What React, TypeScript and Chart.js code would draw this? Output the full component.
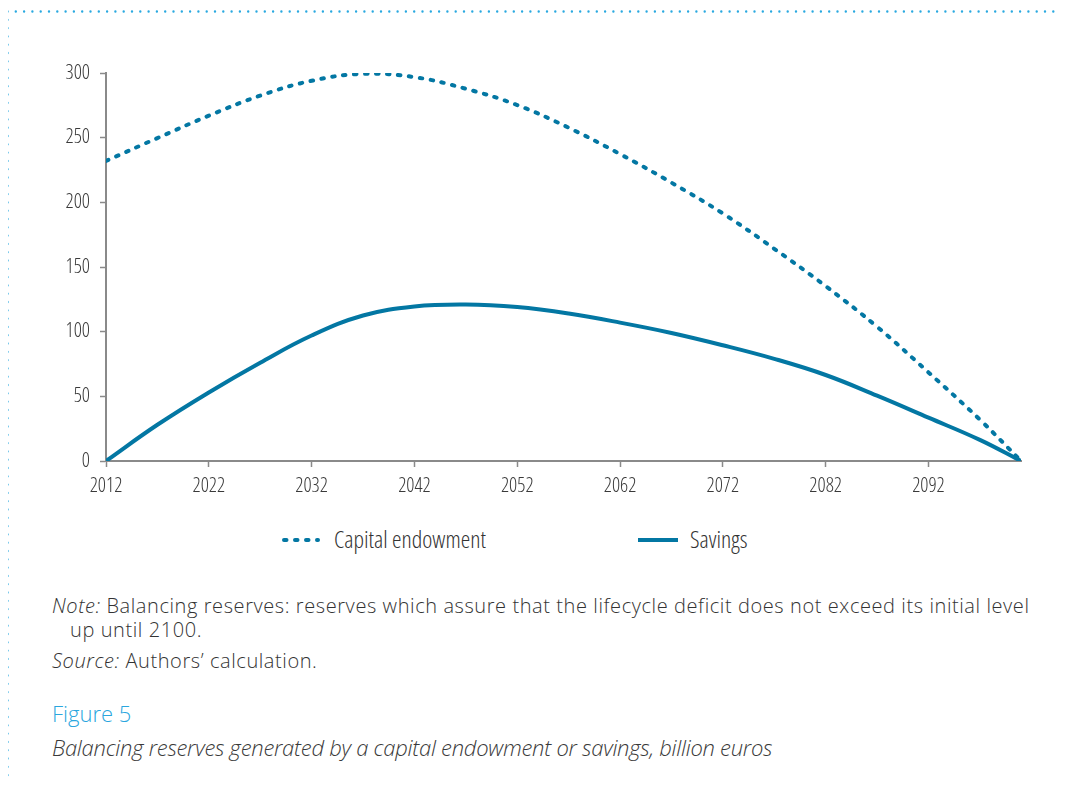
import React, { useEffect, useRef } from 'react';
import { Chart, registerables } from 'chart.js';

Chart.register(...registerables);

const years = [2012, 2017, 2022, 2027, 2032, 2037, 2042, 2047, 2052, 2057, 2062, 2067, 2072, 2077, 2082, 2087, 2092, 2097, 2101];
const capitalEndowment = [232, 249.7, 267, 282.5, 294, 299.3, 296.8, 287.8, 275.2, 257.7, 237.3, 215.2, 191.4, 164.1, 135.2, 103.8, 68.5, 32, 0];
const savings = [0, 28, 53, 76, 97, 112.5, 119.5, 121, 119, 114, 107, 99, 89.5, 79, 66.5, 50.5, 33.5, 16.3, 0];
const xTickYears = [2012, 2022, 2032, 2042, 2052, 2062, 2072, 2082, 2092];
const yTickValues = [0, 50, 100, 150, 200, 250, 300];
const seriesNames = ['Capital endowment', 'Savings'];

const LINE_COLOR = '#0377a3';
const AXIS_COLOR = '#8a8a8a';
const FAMILY = "'Open Sans', sans-serif";

export default function App() {
  const canvasRef = useRef<HTMLCanvasElement | null>(null);

  useEffect(() => {
    const canvas = canvasRef.current;
    if (!canvas) return;
    const tickFont = { family: FAMILY, size: 20, weight: '300 condensed' } as any;
    const chart = new Chart(canvas, {
      type: 'line',
      data: {
        datasets: [
          {
            label: seriesNames[0],
            data: years.map((y, i) => ({ x: y, y: capitalEndowment[i] })),
            borderColor: LINE_COLOR,
            borderWidth: 4,
            borderDash: [2.5, 8.5],
            borderCapStyle: 'round',
            pointRadius: 0,
            tension: 0.4,
            fill: false,
          },
          {
            label: seriesNames[1],
            data: years.map((y, i) => ({ x: y, y: savings[i] })),
            borderColor: LINE_COLOR,
            borderWidth: 4,
            pointRadius: 0,
            tension: 0.4,
            fill: false,
          },
        ],
      },
      options: {
        animation: false,
        responsive: false,
        events: [],
        layout: { padding: { left: 0, right: 44, top: 73, bottom: 0 } },
        plugins: {
          legend: { display: false },
          tooltip: { enabled: false },
          title: { display: false },
        },
        scales: {
          x: {
            type: 'linear',
            min: 2012,
            max: 2101,
            afterBuildTicks: (scale: any) => {
              scale.ticks = xTickYears.map((v) => ({ value: v }));
            },
            afterFit: (scale: any) => {
              scale.height = 41;
            },
            border: { display: true, color: AXIS_COLOR, width: 2 },
            grid: {
              display: true,
              drawOnChartArea: false,
              drawTicks: true,
              tickLength: 6,
              tickColor: AXIS_COLOR,
              tickWidth: 1.5,
            },
            ticks: {
              autoSkip: false,
              maxRotation: 0,
              padding: 7,
              color: '#3a3a3a',
              font: tickFont,
              callback: (v: any) => String(v),
            },
          },
          y: {
            type: 'linear',
            min: 0,
            max: 300,
            afterBuildTicks: (scale: any) => {
              scale.ticks = yTickValues.map((v) => ({ value: v }));
            },
            afterFit: (scale: any) => {
              scale.width = 106;
            },
            border: { display: true, color: AXIS_COLOR, width: 2 },
            grid: {
              display: true,
              drawOnChartArea: false,
              drawTicks: true,
              tickLength: 6,
              tickColor: AXIS_COLOR,
              tickWidth: 1.5,
            },
            ticks: {
              padding: 10,
              color: '#3a3a3a',
              font: tickFont,
              callback: (v: any) => String(v),
            },
          },
        },
      },
    } as any);
    return () => chart.destroy();
  }, []);

  const abs = (left: number, top: number, extra: React.CSSProperties = {}): React.CSSProperties => ({
    position: 'absolute',
    left,
    top,
    whiteSpace: 'nowrap',
    fontFamily: FAMILY,
    fontWeight: 300,
    fontStretch: '75%',
    ...extra,
  });

  const noteStyle: React.CSSProperties = { fontSize: 20, lineHeight: '28px', color: '#333', fontStretch: '100%', letterSpacing: '0.58px' };

  return (
    <div style={{ position: 'relative', margin: -8, width: 1065, height: 785, overflow: 'hidden', background: '#fff' }}>
      <svg width={1065} height={789} style={{ position: 'absolute', left: 0, top: 0 }}>
        <line x1={7.5} y1={11.5} x2={1065} y2={11.5} stroke="#2aa9e0" strokeWidth={2.4} strokeDasharray="0 8.3" strokeLinecap="round" />
        <line x1={7.5} y1={19.8} x2={7.5} y2={789} stroke="#2aa9e0" strokeWidth={2.4} strokeDasharray="0 8.3" strokeLinecap="round" />
      </svg>
      <canvas ref={canvasRef} width={1065} height={502} style={{ position: 'absolute', left: 0, top: 0, width: 1065, height: 502 }} />

      {/* Legend */}
      <svg width={1065} height={20} style={{ position: 'absolute', left: 0, top: 530 }}>
        <line x1={284} y1={10} x2={318} y2={10} stroke={LINE_COLOR} strokeWidth={4} strokeDasharray="2.5 8.5" strokeLinecap="round" />
        <line x1={638} y1={10} x2={678} y2={10} stroke={LINE_COLOR} strokeWidth={4} />
      </svg>
      <div style={abs(334, 522, { fontSize: 24, lineHeight: '34px', color: '#333' })}>{seriesNames[0]}</div>
      <div style={abs(690, 522, { fontSize: 24, lineHeight: '34px', color: '#333' })}>{seriesNames[1]}</div>

      {/* Notes */}
      <div style={abs(52, 592, noteStyle)}>
        <i>Note:</i> Balancing reserves: reserves which assure that the lifecycle deficit does not exceed its initial level
      </div>
      <div style={abs(70, 616, noteStyle)}>up until 2100.</div>
      <div style={abs(52, 647, noteStyle)}>
        <i>Source:</i> Authors’ calculation.
      </div>

      {/* Figure caption */}
      <div style={abs(52, 697, { fontSize: 22, lineHeight: '32px', color: '#2aa6de', fontStretch: '100%' })}>Figure 5</div>
      <div style={abs(52, 731, { fontSize: 22, lineHeight: '32px', color: '#3a3a3a', fontStyle: 'italic', fontStretch: '100%', letterSpacing: '-0.26px' })}>
        Balancing reserves generated by a capital endowment or savings, billion euros
      </div>
    </div>
  );
}
